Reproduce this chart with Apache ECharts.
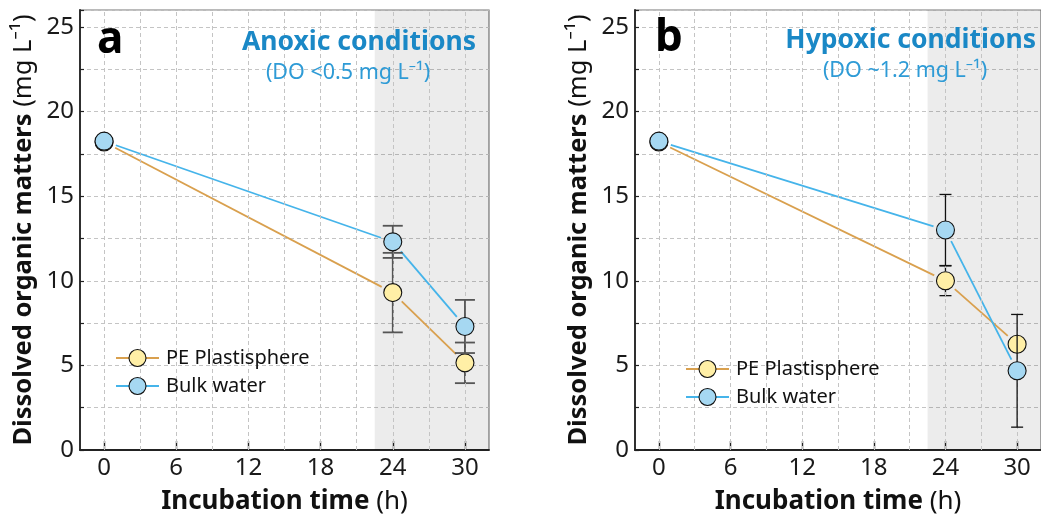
<!DOCTYPE html>
<html><head><meta charset="utf-8">
<script src="https://cdn.jsdelivr.net/npm/echarts@6/dist/echarts.min.js"></script>
<style>html,body{margin:0;padding:0;background:#fff}#c{width:1041px;height:520px}</style>
</head><body><div id="c"></div>
<script>
// ---- data ----
const timesH = [0, 24, 30];
const xTickLabels = [0, 6, 12, 18, 24, 30];
const xGridValues = [0, 3, 6, 9, 12, 15, 18, 21, 24, 27, 30];
const shadeRange = [22.5, 32];
// Panel a (anoxic)
const peA = [18.2, 9.3, 5.15];
const peAErr = [0, 2.35, 1.2];
const bulkA = [18.25, 12.3, 7.3];
const bulkAErr = [0, 0.95, 1.57];
// Panel b (hypoxic)
const peB = [18.2, 10.0, 6.25];
const peBErr = [0, 0.88, 0.2];
const bulkB = [18.25, 13.0, 4.68];
const bulkBErr = [0, 2.1, 3.33];

const FONT = 'Noto Sans';
const PE_LINE = '#D9A04E', PE_FILL = '#FFEFA6';
const BW_LINE = '#45B4EA', BW_FILL = '#A6D8F2';

const chart = echarts.init(document.getElementById('c'), null, {renderer: 'canvas'});

function pts(ys) { return timesH.map((t, i) => [t, ys[i]]); }
function segs(ys) {
  const out = [];
  for (let i = 1; i < timesH.length; i++) out.push([timesH[i-1], ys[i-1], timesH[i], ys[i]]);
  return out;
}
function errs(ys, es) { return timesH.map((t, i) => [t, ys[i], es[i]]).filter(d => d[2] > 0); }

function segSeries(gi, ys, color) {
  return {
    type: 'custom', xAxisIndex: gi, yAxisIndex: gi, z: 3, silent: true,
    data: segs(ys),
    renderItem: function (params, api) {
      const a = api.coord([api.value(0), api.value(1)]);
      const b = api.coord([api.value(2), api.value(3)]);
      const dx = b[0] - a[0], dy = b[1] - a[1];
      const L = Math.sqrt(dx*dx + dy*dy);
      const g = 12.5;
      const ux = dx / L, uy = dy / L;
      return {
        type: 'line',
        shape: {x1: a[0] + ux*g, y1: a[1] + uy*g, x2: b[0] - ux*g, y2: b[1] - uy*g},
        style: {stroke: color, lineWidth: 1.8}
      };
    }
  };
}
function errSeries(gi, ys, es, color, w, z, hw) {
  return {
    type: 'custom', xAxisIndex: gi, yAxisIndex: gi, z: z, silent: true,
    data: errs(ys, es),
    renderItem: function (params, api) {
      const x = api.value(0), y = api.value(1), e = api.value(2);
      const top = api.coord([x, y + e]);
      const bot = api.coord([x, y - e]);
      const st = {stroke: color, lineWidth: w};
      return {
        type: 'group', children: [
          {type: 'line', shape: {x1: top[0], y1: top[1], x2: bot[0], y2: bot[1]}, style: st},
          {type: 'line', shape: {x1: top[0]-hw, y1: top[1], x2: top[0]+hw, y2: top[1]}, style: st},
          {type: 'line', shape: {x1: bot[0]-hw, y1: bot[1], x2: bot[0]+hw, y2: bot[1]}, style: st}
        ]
      };
    }
  };
}
function dotSeries(gi, ys, fill, z, name) {
  return {
    name: name, type: 'scatter', xAxisIndex: gi, yAxisIndex: gi, z: z, silent: true,
    symbol: 'circle', symbolSize: 18,
    itemStyle: {color: fill, borderColor: '#111', borderWidth: 1.1, opacity: 1},
    data: pts(ys)
  };
}
function bgSeries(gi) {
  return {
    type: 'line', xAxisIndex: gi, yAxisIndex: gi, z: 1, silent: true, data: [],
    markArea: {
      silent: true,
      itemStyle: {color: 'rgba(0,0,0,0.075)'},
      data: [[{xAxis: shadeRange[0]}, {xAxis: shadeRange[1]}]]
    },
    markLine: {
      silent: true, symbol: 'none', label: {show: false},
      lineStyle: {color: '#c4c4c4', type: [4, 3], width: 1},
      data: xGridValues.map(v => ({xAxis: v}))
    }
  };
}

const grids = [
  {left: 80, top: 10, width: 409, height: 442},
  {left: 635, top: 10, width: 409, height: 442}
];
function xAx(gi) {
  return {
    type: 'value', gridIndex: gi, min: -2, max: 32,
    axisLine: {show: true, onZero: false, lineStyle: {color: '#222', width: 1.8}},
    axisTick: {show: true, inside: true, length: 9, customValues: xTickLabels, lineStyle: {color: '#222', width: 1.4}},
    axisLabel: {customValues: xTickLabels, fontFamily: FONT, fontSize: 24, color: '#1a1a1a', margin: 6},
    splitLine: {show: false},
    name: '{b|Incubation time\u00a0}{n|(h)}', nameLocation: 'middle', nameGap: 39,
    nameTextStyle: {rich: {
      b: {fontFamily: FONT, fontSize: 26, fontWeight: 'bold', color: '#111'},
      n: {fontFamily: FONT, fontSize: 26, color: '#111'}
    }}
  };
}
function yAx(gi) {
  return {
    type: 'value', gridIndex: gi, min: 0, max: 26, interval: 2.5,
    axisLine: {show: true, onZero: false, lineStyle: {color: '#222', width: 1.8}},
    axisTick: {show: true, inside: true, length: 4, lineStyle: {color: '#222', width: 1.2}},
    axisLabel: {fontFamily: FONT, fontSize: 24, color: '#1a1a1a', margin: 6,
      formatter: v => (Math.abs(v % 5) < 1e-9 ? String(v) : '')},
    splitLine: {show: true, lineStyle: {color: '#c4c4c4', type: [4, 3], width: 1}},
    name: '{b|Dissolved organic matters\u00a0}{n|(mg L⁻¹)}', nameLocation: 'middle', nameRotate: 90, nameGap: 43,
    nameTextStyle: {rich: {
      b: {fontFamily: FONT, fontSize: 25.5, fontWeight: 'bold', color: '#111'},
      n: {fontFamily: FONT, fontSize: 25.5, color: '#111'}
    }}
  };
}

function legendGraphics(x0, yPE, yBW) {
  const items = [];
  [[yPE, PE_LINE, PE_FILL, 'PE Plastisphere'], [yBW, BW_LINE, BW_FILL, 'Bulk water']].forEach(r => {
    const [y, lc, fc, txt] = r;
    items.push({type: 'line', shape: {x1: x0, y1: y, x2: x0 + 43, y2: y}, style: {stroke: lc, lineWidth: 1.8}, z: 10});
    items.push({type: 'circle', shape: {cx: x0 + 21.5, cy: y, r: 8.5}, style: {fill: fc, stroke: '#111', lineWidth: 1.1}, z: 11});
    items.push({type: 'text', x: x0 + 50, y: y, style: {text: txt, font: '20px "' + FONT + '"', fill: '#111', verticalAlign: 'middle', textAlign: 'left'}, z: 11});
  });
  return items;
}

const option = {
  animation: false,
  backgroundColor: '#fff',
  grid: grids.map(g => Object.assign({show: true, borderColor: '#777', borderWidth: 1.2, backgroundColor: 'transparent'}, g)),
  xAxis: [xAx(0), xAx(1)],
  yAxis: [yAx(0), yAx(1)],
  series: [
    bgSeries(0),
    segSeries(0, peA, PE_LINE), segSeries(0, bulkA, BW_LINE),
    errSeries(0, peA, peAErr, '#555', 1.8, 4, 10),
    dotSeries(0, peA, PE_FILL, 5, 'PE Plastisphere'),
    errSeries(0, bulkA, bulkAErr, '#555', 1.8, 6, 10),
    dotSeries(0, bulkA, BW_FILL, 7, 'Bulk water'),
    bgSeries(1),
    segSeries(1, peB, PE_LINE), segSeries(1, bulkB, BW_LINE),
    errSeries(1, peB, peBErr, '#111', 1.3, 4, 6),
    dotSeries(1, peB, PE_FILL, 5, 'PE Plastisphere'),
    errSeries(1, bulkB, bulkBErr, '#111', 1.3, 6, 6),
    dotSeries(1, bulkB, BW_FILL, 7, 'Bulk water')
  ],
  graphic: [
    {type: 'text', left: 97, top: 18, style: {text: 'a', font: 'bold 44px "' + FONT + '"', fill: '#000'}, z: 20},
    {type: 'text', left: 655, top: 16, style: {text: 'b', font: 'bold 44px "' + FONT + '"', fill: '#000'}, z: 20},
    {type: 'text', x: 476, y: 42, style: {text: 'Anoxic conditions', font: 'bold 26.5px "' + FONT + '"', fill: '#1A88C6', textAlign: 'right', verticalAlign: 'middle'}, z: 20},
    {type: 'text', x: 348, y: 73, style: {text: '(DO <0.5 mg L⁻¹)', font: '21.5px "' + FONT + '"', fill: '#2E9BD6', textAlign: 'center', verticalAlign: 'middle'}, z: 20},
    {type: 'text', x: 1036, y: 40, style: {text: 'Hypoxic conditions', font: 'bold 26.5px "' + FONT + '"', fill: '#1A88C6', textAlign: 'right', verticalAlign: 'middle'}, z: 20},
    {type: 'text', x: 905, y: 71, style: {text: '(DO ~1.2 mg L⁻¹)', font: '21.5px "' + FONT + '"', fill: '#2E9BD6', textAlign: 'center', verticalAlign: 'middle'}, z: 20}
  ].concat(legendGraphics(116, 358, 386), legendGraphics(686, 369, 397))
};
chart.setOption(option);
</script>
</body></html>
